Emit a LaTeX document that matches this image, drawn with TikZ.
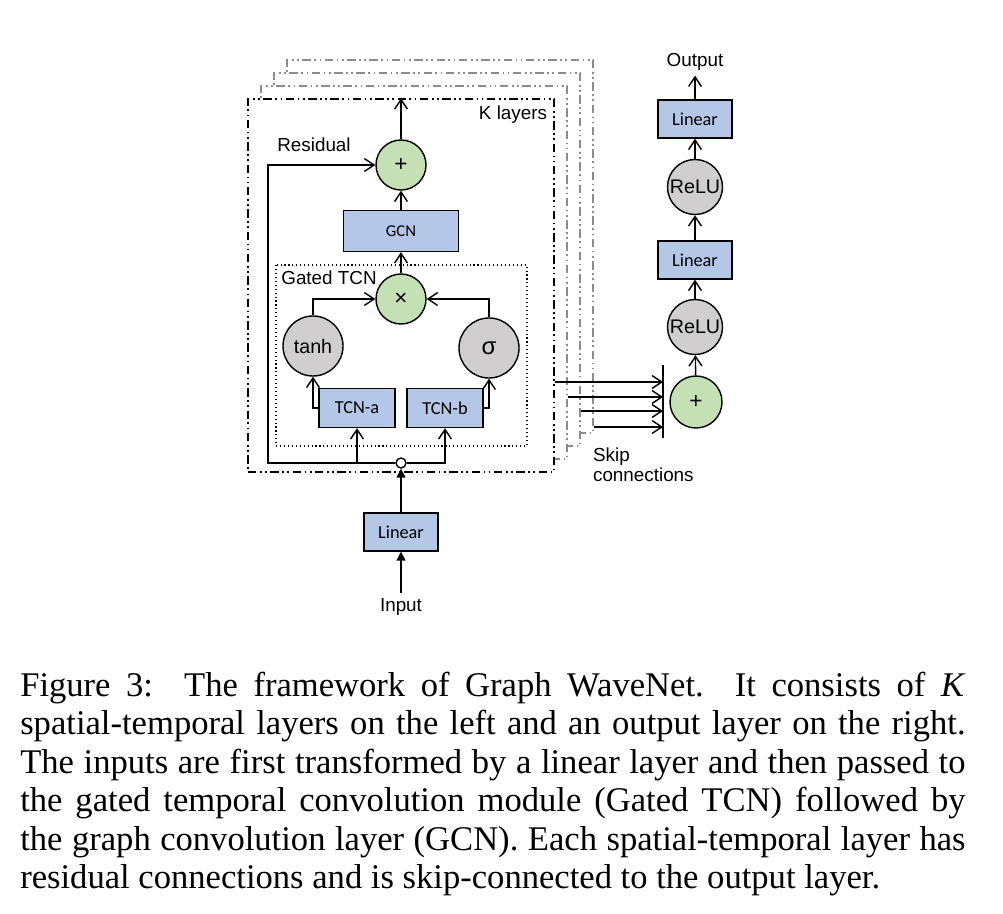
\documentclass[tikz,border=0pt]{standalone}
\usepackage{fontspec}
\setmainfont{Liberation Serif}
\setsansfont{Liberation Sans}
\newfontfamily\boxfont{Carlito}
\usetikzlibrary{arrows.meta, positioning, calc}
\definecolor{boxblue}{HTML}{B4C7E7}
\definecolor{opgreen}{HTML}{C5E0B4}
\definecolor{opgray}{HTML}{D0CECE}
\definecolor{framegray}{HTML}{8C8C8C}
\tikzset{
	blockbox/.style={
			rectangle,
			draw=black,
			line width=1pt,
			fill=boxblue,
			minimum width=1.85cm,
			minimum height=0.95cm,
			inner sep=0pt,
			font=\boxfont\fontsize{13}{15}\selectfont
		},
	opnode/.style={
			circle,
			draw=black,
			line width=1pt,
			fill=opgreen,
			minimum size=1.25cm,
			inner sep=0pt,
			font=\sffamily\fontsize{16}{18}\selectfont
		},
	actnode/.style={
			opnode,
			fill=opgray,
			minimum size=1.375cm,
			font=\sffamily\fontsize{14}{16}\selectfont
		},
	jointnode/.style={
			circle,
			draw=black,
			line width=1pt,
			fill=white,
			minimum size=0.25cm,
			inner sep=0pt
		},
	labelnode/.style={
			inner sep=0.12cm,
			font=\sffamily\fontsize{13.4}{14.5}\selectfont
		},
	layerframe/.style={
			rectangle,
			draw=black,
			fill=white,
			line width=1pt,
			inner sep=0pt,
			minimum width=7.65cm,
			minimum height=9.325cm,
			dash pattern=on 6pt off 2.5pt on 1.2pt off 2.5pt on 1.2pt off 2.5pt
		},
	backframe/.style={
			layerframe,
			draw=framegray
		},
	gatebox/.style={
			draw=black,
			line width=0.8pt,
			dotted
		},
	captionline/.style={
			anchor=base west,
			inner sep=0pt,
			font=\rmfamily\fontsize{24.6}{27.4}\selectfont
		},
	flow/.style={
			line width=1pt,
			-{Straight Barb[length=2.4mm,width=3.2mm]}
		},
	feed/.style={
			line width=1pt,
			-{Triangle[length=2.2mm,width=2.2mm]}
		}
}

\begin{document}
\begin{tikzpicture}[x=0.025cm, y=-0.025cm]
\useasboundingbox (0,0) rectangle (1003,913);

\node[backframe] (frameD) at (440,246.5) {};
\node[backframe] (frameC) at (427,259.5) {};
\node[backframe] (frameB) at (414,272.5) {};
\node[layerframe] (frameA) at (401,285.5) {};

\node[labelnode] (kLbl) at (513,115) {K layers};
\node[labelnode] (resLbl) at (314,145) {Residual};
\node[opnode] (mainPlus) at (401,165) {+};
\node[blockbox, minimum width=2.875cm, minimum height=1.025cm,
      font=\boxfont\fontsize{11.8}{13}\selectfont] (gcn) at (401,231) {GCN};

\draw[gatebox] (276,265) rectangle (527,446);
\node[labelnode] (gatedLbl) at (329,278) {Gated TCN};
\node[opnode] (mulNode) at (401,299) {×};
\node[actnode, minimum size=1.5cm] (tanhNode) at (313,346) {tanh};
\node[actnode, minimum size=1.5cm, font=\sffamily\fontsize{17}{18}\selectfont] (sigNode) at (489,348) {σ};
\node[blockbox, minimum width=1.9cm, minimum height=0.975cm] (tcnA) at (357,408) {TCN-a};
\node[blockbox, minimum width=1.9cm, minimum height=0.975cm] (tcnB) at (445,408) {TCN-b};
\node[jointnode] (joint) at (401,463) {};
\coordinate (resTurn) at (268,463);

\node[blockbox] (linIn) at (401,532) {Linear};
\node[labelnode] (inputLbl) at (401,607) {Input};

\draw[feed] (inputLbl) -- (linIn);
\draw[feed] (linIn) -- (joint);
\draw[flow] (joint.west) -- (resTurn) |- (mainPlus.west);
\draw[flow] (tcnA.south |- joint) -- (tcnA.south);
\draw[flow] (joint.east) -| (tcnB.south);
\draw[flow] (tcnA.west) -| (tanhNode.south);
\draw[flow] (tcnB.east) -| (sigNode.south);
\draw[flow] (tanhNode.north) |- (mulNode.west);
\draw[flow] (sigNode.north) |- (mulNode.east);
\draw[flow] (mulNode) -- (gcn);
\draw[flow] (gcn) -- (mainPlus);
\draw[flow] (mainPlus.north) -- (mainPlus.north |- frameA.north);

\node[opnode, minimum size=1.3cm] (outPlus) at (696,402) {+};
\node[actnode] (reluA) at (695,327) {ReLU};
\node[blockbox] (linA) at (695,260) {Linear};
\node[actnode] (reluB) at (695,187) {ReLU};
\node[blockbox] (linB) at (695,119) {Linear};
\node[labelnode] (outLbl) at (695,62) {Output};

\draw[flow] (outPlus) -- (reluA);
\draw[flow] (reluA) -- (linA);
\draw[flow] (linA) -- (reluB);
\draw[flow] (reluB) -- (linB);
\draw[flow] (linB) -- (outLbl);

\coordinate (barTop) at (663,365);
\coordinate (barBot) at (663,438);
\draw[line width=1pt] (barTop) -- (barBot);
\foreach \f/\y in {frameA/382, frameB/397, frameC/411, frameD/427}
  \draw[flow] (\f.east |- 0,\y) -- (barTop |- 0,\y);
\node[labelnode, anchor=west, align=left] (skipLbl) at (588,465) {Skip\\connections};

\node[captionline] (capA) at (20,696) {\makebox[23.625cm][s]{Figure 3:\ \ The framework of Graph WaveNet.\ \ It consists of \textit{K}}};
\node[captionline] (capB) at (20,734.5) {\makebox[23.625cm][s]{spatial-temporal layers on the left and an output layer on the right.}};
\node[captionline] (capC) at (20,773) {\makebox[23.625cm][s]{The inputs are first transformed by a linear layer and then passed to}};
\node[captionline] (capD) at (20,811.5) {\makebox[23.625cm][s]{the gated temporal convolution module (Gated TCN) followed by}};
\node[captionline] (capE) at (20,850) {\makebox[23.625cm][s]{the graph convolution layer (GCN). Each spatial-temporal layer has}};
\node[captionline] (capF) at (20,888.5) {residual connections and is skip-connected to the output layer.};

\end{tikzpicture}
\end{document}
